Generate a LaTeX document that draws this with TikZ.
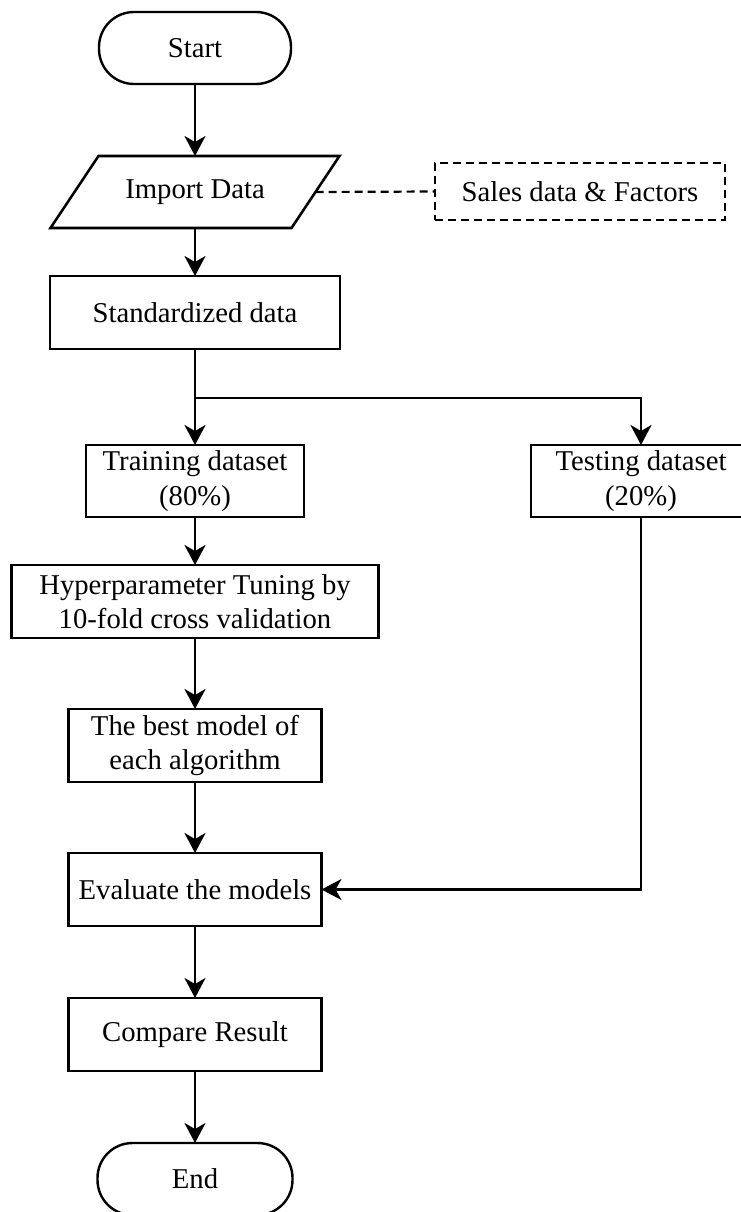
\documentclass[tikz,border=0pt]{standalone}
\usepackage{fontspec}
\setmainfont{Liberation Serif}
\usetikzlibrary{arrows.meta}

\begin{document}
\begin{tikzpicture}[x=1pt,y=-1pt,
  every node/.style={font=\fontsize{28.7}{34.5}\selectfont, align=center, inner sep=0pt, outer sep=0pt},
  boxed/.style={draw, line width=2.6pt, rectangle},
  terminal/.style={draw, line width=2.4pt, rectangle, rounded corners=35pt,
                   minimum width=192pt, minimum height=72pt},
  outline/.style={line width=2.6pt, line join=miter},
  note/.style={draw, dash pattern=on 8pt off 5pt, line width=2pt, rectangle},
  arr/.style={line width=2.6pt, -{Stealth[length=20pt, width=21pt, inset=6pt]}},
  link/.style={line width=2.2pt, dash pattern=on 8pt off 5pt}
]
\useasboundingbox (0,0) rectangle (740,1212);

% process nodes, main column centred at x = 195
\node[terminal] (start) at (195,48) {Start};
% input/output step: the node is the midline box, its slanted outline is drawn below
\node[minimum width=241pt, minimum height=72pt] (imp) at (195,192) {Import Data};
\draw[outline] ([xshift=-24pt]imp.south west) -- ([xshift=24pt]imp.north west)
  -- ([xshift=24pt]imp.north east) -- ([xshift=-24pt]imp.south east) -- cycle;
\node[note, minimum width=290pt, minimum height=57pt] (sales) at (580,191.5) {Sales data \& Factors};
\node[boxed, minimum width=290pt, minimum height=73pt] (std) at (195,312.5) {Standardized data};
\node[boxed, minimum width=218pt, minimum height=72pt] (train) at (195,481) {Training dataset\\(80\%)};
\node[boxed, minimum width=220pt, minimum height=72pt] (test) at (641,481) {Testing dataset\\(20\%)};
\node[boxed, minimum width=367pt, minimum height=73pt] (hyper) at (195,601.5) {Hyperparameter Tuning by\\10-fold cross validation};
\node[boxed, minimum width=253pt, minimum height=73pt] (best) at (195,745.5) {The best model of\\each algorithm};
\node[boxed, minimum width=253pt, minimum height=73pt] (eval) at (195,889.5) {Evaluate the models};
\node[boxed, minimum width=253pt, minimum height=73pt] (cmp) at (195,1034.5) {Compare Result};
\node[terminal, minimum width=195pt] (end) at (195,1179) {End};

% connectors
\coordinate (split) at (195,398);
\draw[arr] (start) -- (imp);
\draw[link] (imp.east) -- (sales.west);
\draw[arr] (imp) -- (std);
\draw[arr] (std.south) -- (train.north);
\draw[arr] (split) -| (test.north);
\draw[arr] (train) -- (hyper);
\draw[arr] (hyper) -- (best);
\draw[arr] (best) -- (eval);
\draw[arr] (test.south) |- (eval.east);
\draw[arr] (eval) -- (cmp);
\draw[arr] (cmp) -- (end);
\end{tikzpicture}
\end{document}
